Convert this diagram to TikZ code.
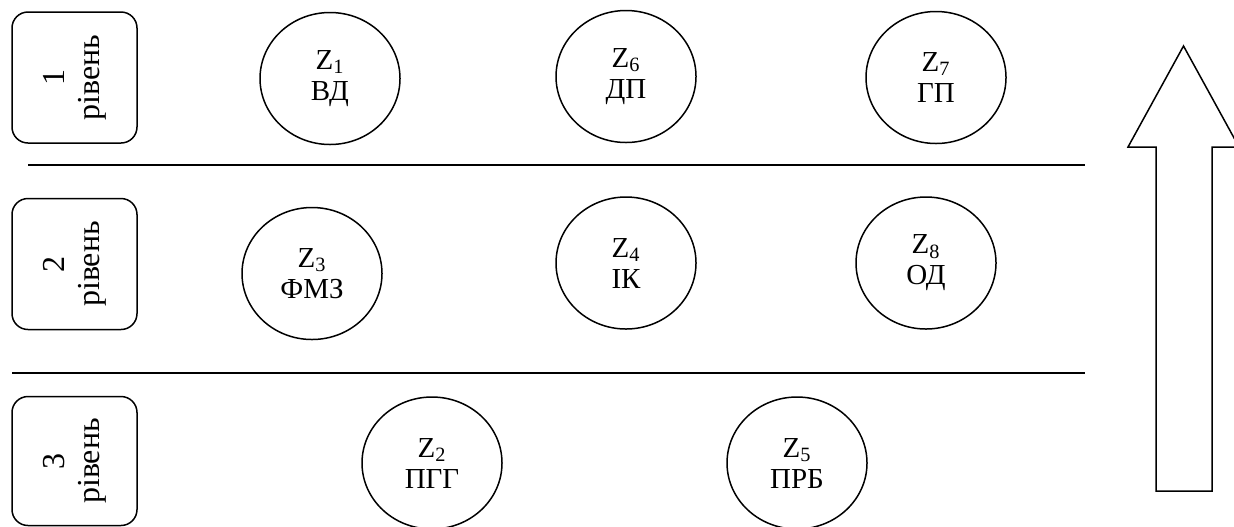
\documentclass[tikz,border=0pt]{standalone}
\usepackage{fontspec}
\setmainfont{Liberation Serif}
\usetikzlibrary{shapes.geometric}
\begin{document}
\begin{tikzpicture}[x=0.5pt,y=-0.5pt,line width=0.75pt,
  levelbox/.style={draw,rectangle,rounded corners=8pt,minimum width=62.5pt,minimum height=65.5pt,inner sep=0pt,align=center,font=\fontsize{16}{19.5}\selectfont},
  zone/.style={draw,ellipse,minimum width=70pt,minimum height=66pt,inner sep=0pt,align=center,font=\fontsize{14.5}{15.5}\selectfont},
  sep/.style={line width=0.8pt}]
\useasboundingbox (0,0) rectangle (1234,526);
% level boxes
\node[levelbox] (l1) at (74.5,77.5) {\rotatebox{90}{\begin{tabular}{@{}c@{}}1\\[-2pt]рівень\end{tabular}}};
\node[levelbox] (l2) at (74.5,264) {\rotatebox{90}{\begin{tabular}{@{}c@{}}2\\[-2pt]рівень\end{tabular}}};
\node[levelbox,minimum height=64.5pt] (l3) at (74.5,461) {\rotatebox{90}{\begin{tabular}{@{}c@{}}3\\[-2pt]рівень\end{tabular}}};
% separators
\coordinate (s1a) at (28,165);
\coordinate (s1b) at (1085,165);
\coordinate (s2a) at (12,373);
\coordinate (s2b) at (1085,373);
\draw[sep] (s1a) -- (s1b);
\draw[sep] (s2a) -- (s2b);
% zones
\node[zone] (z1) at (330,78.5) {Z\textsubscript{1}\\ВД};
\node[zone] (z6) at (626,76.5) {Z\textsubscript{6}\\ДП};
\node[zone] (z7) at (936,77.5) {Z\textsubscript{7}\\ГП};
\node[zone] (z3) at (312,273.5) {Z\textsubscript{3}\\ФМЗ};
\node[zone] (z4) at (626,263) {Z\textsubscript{4}\\ІК};
\node[zone] (z8) at (926,263) {Z\textsubscript{8}\\ОД};
\node[zone] (z2) at (432,463) {Z\textsubscript{2}\\ПГГ};
\node[zone] (z5) at (797,463) {Z\textsubscript{5}\\ПРБ};
% big arrow
\draw[line join=miter] (1183.5,46) -- (1239,147) -- (1212,147) -- (1212,491) -- (1156,491) -- (1156,147) -- (1128,147) -- cycle;
\end{tikzpicture}
\end{document}
